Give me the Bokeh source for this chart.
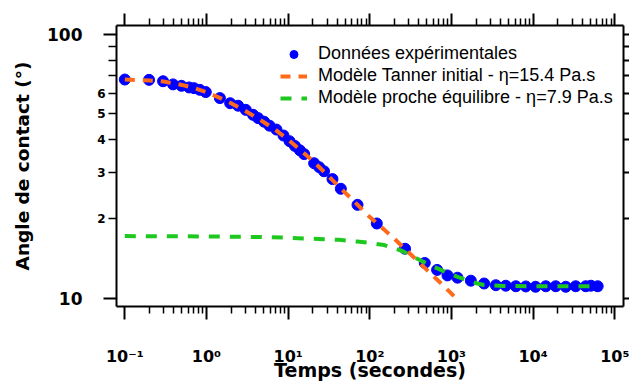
from bokeh.plotting import figure
from bokeh.models import (LogAxis, FixedTicker, PrintfTickFormatter, CustomJSTickFormatter,
                          Legend, LegendItem, Range1d)
from bokeh.embed import file_html
from bokeh.resources import INLINE

# ---------------- data ----------------
temps_exp = [0.1, 0.198, 0.294, 0.39, 0.494, 0.612, 0.705, 0.829, 0.981, 1.46, 1.95, 2.44,
             3.03, 3.72, 4.29, 5.08, 5.92, 7.2, 8.78, 10.4, 12.1, 13.9, 15.7, 20.8, 24.0,
             27.5, 34.9, 44.2, 70.7, 121.8, 270, 471, 667, 893, 1185, 1726, 2512, 3493,
             4624, 6137, 8128, 10700, 14300, 18900, 25100, 33200, 44100, 51000, 61700]
angle_exp = [67.5, 67.3, 66.5, 64.7, 63.9, 63.0, 62.6, 61.7, 60.5, 57.4, 54.9, 53.7,
             51.8, 49.6, 48.2, 46.7, 45.1, 43.6, 41.4, 39.4, 37.8, 36.4, 35.2, 32.5, 31.4,
             30.3, 28.3, 26.0, 22.6, 19.2, 15.4, 13.6, 12.8, 12.2, 11.96, 11.65, 11.37, 11.2,
             11.15, 11.1, 11.08, 11.05, 11.1, 11.1, 11.05, 11.1, 11.1, 11.15, 11.1]

temps_tanner = [0.1, 0.2, 0.3, 0.5, 0.7, 1, 1.5, 2, 3, 5, 7, 10, 15, 20, 30, 50, 70, 100,
                150, 200, 300, 500, 700, 1000, 1130]
angle_tanner = [67.5, 67.0, 66.3, 64.4, 62.7, 60.4, 57.3, 54.9, 51.3, 46.6, 43.5, 39.9,
                35.9, 33.2, 29.4, 25.1, 22.7, 20.3, 18.2, 16.8, 14.9, 12.8, 11.6, 10.4, 10.0]

temps_equil = [0.1, 1, 5, 10, 20, 42, 70, 100, 150, 250, 420, 740, 1000, 1190, 2080, 2500,
               4370, 10000, 30000, 58500]
angle_equil = [17.2, 17.15, 17.05, 16.95, 16.8, 16.65, 16.4, 16.2, 15.9, 15.1, 13.9, 12.8,
               12.3, 12.04, 11.37, 11.22, 11.12, 11.1, 11.1, 11.1]

x_decades = [-1, 0, 1, 2, 3, 4, 5]
x_tick_labels = ["10\u207b\u00b9", "10\u2070", "10\u00b9", "10\u00b2", "10\u00b3",
                 "10\u2074", "10\u2075"]
y_major = [10, 100]
y_minor = [20, 30, 40, 50, 60, 70, 80, 90]
y_small_ticks = [20, 30, 40, 50, 60]
y_small_labels = ["2", "3", "4", "5", "6"]

labels_legend = ["Données expérimentales",
                 "Modèle Tanner initial - η=15.4 Pa.s",
                 "Modèle proche équilibre - η=7.9 Pa.s"]

BLUE = "#0000ff"
ORANGE = "#ff6a1a"
GREEN = "#1ec81e"
FONT = "DejaVu Sans"

x_start, x_end = 0.0791, 1.278e5
y_start, y_end = 9.30, 108.2

p = figure(width=629, height=383, x_axis_type="log", y_axis_type="log",
           x_range=Range1d(x_start, x_end), y_range=Range1d(y_start, y_end),
           output_backend="svg", toolbar_location=None,
           min_border_left=116, min_border_right=6, min_border_top=25,
           min_border_bottom=77)
p.xgrid.visible = False
p.ygrid.visible = False
p.outline_line_color = None
p.background_fill_color = "white"
p.border_fill_color = "white"

x_major = [10.0 ** k for k in x_decades]
x_minor = [m * 10.0 ** k for k in x_decades[:-1] for m in range(2, 10)]

LOOKUP = """
for (let i = 0; i < tvals.length; i++) {
  if (Math.abs(tick - tvals[i]) <= 1e-9 * Math.abs(tvals[i])) { return tlabels[i]; }
}
return '';
"""


def blank():
    return CustomJSTickFormatter(code="return ''")


def style_axis(ax, maj_out, min_out):
    ax.axis_line_width = 2
    ax.axis_line_color = "black"
    ax.major_tick_line_width = 2
    ax.minor_tick_line_width = 1.5
    ax.major_tick_out = maj_out
    ax.major_tick_in = 0
    ax.minor_tick_out = min_out
    ax.minor_tick_in = 0


def label_only(ax):
    ax.axis_line_color = None
    ax.major_tick_line_color = None
    ax.minor_tick_line_color = None
    ax.major_tick_out = 0
    ax.major_tick_in = 0
    ax.minor_tick_out = 0
    ax.minor_tick_in = 0


# bottom axis: ticks + 10^k labels
xa = p.xaxis[0]
xa.ticker = FixedTicker(ticks=x_major, minor_ticks=x_minor)
xa.formatter = CustomJSTickFormatter(args=dict(tvals=x_major, tlabels=x_tick_labels),
                                     code=LOOKUP)
xa.major_label_text_font = FONT
xa.major_label_text_font_style = "bold"
xa.major_label_text_font_size = "16px"
xa.major_label_text_color = "black"
xa.major_label_standoff = 27
style_axis(xa, 13, 7)
xa.axis_label = "Temps (secondes)"
xa.axis_label_text_font = FONT
xa.axis_label_text_font_style = "bold"
xa.axis_label_text_font_size = "19px"
xa.axis_label_standoff = -10
xa.axis_label_text_color = "black"

# left axis: ticks only (long at 10/100, short elsewhere)
ya = p.yaxis[0]
ya.ticker = FixedTicker(ticks=y_major, minor_ticks=y_minor)
ya.formatter = blank()
ya.major_label_text_font_size = "1px"
ya.major_label_standoff = 0
style_axis(ya, 13, 8)

# left axis 2: small labels 2..6
yb = LogAxis(ticker=FixedTicker(ticks=y_small_ticks),
             formatter=CustomJSTickFormatter(args=dict(tvals=y_small_ticks,
                                                       tlabels=y_small_labels),
                                             code=LOOKUP),
             major_label_text_font=FONT, major_label_text_font_style="bold",
             major_label_text_font_size="12px", major_label_text_color="black",
             major_label_standoff=-2)
label_only(yb)
p.add_layout(yb, "left")

# left axis 3: 10 / 100 labels and the axis title
yc = LogAxis(ticker=FixedTicker(ticks=y_major),
             formatter=PrintfTickFormatter(format="%d"),
             major_label_text_font=FONT, major_label_text_font_style="bold",
             major_label_text_font_size="17px", major_label_text_color="black",
             major_label_standoff=12,
             axis_label="Angle de contact (°)", axis_label_text_font=FONT,
             axis_label_text_font_style="bold", axis_label_text_font_size="18.5px",
             axis_label_text_color="black", axis_label_standoff=11)
label_only(yc)
p.add_layout(yc, "left")

# top axis (ticks only)
top = LogAxis(ticker=FixedTicker(ticks=x_major, minor_ticks=x_minor),
              formatter=blank(), major_label_text_font_size="1px",
              major_label_standoff=0)
style_axis(top, 12, 7)
p.add_layout(top, "above")

# right axis (ticks only)
right = LogAxis(ticker=FixedTicker(ticks=y_major + y_minor),
                formatter=blank(), major_label_text_font_size="1px",
                major_label_standoff=0)
style_axis(right, 6, 6)
p.add_layout(right, "right")

# glyphs
r_exp = p.scatter(temps_exp, angle_exp, marker="circle", size=11,
                  fill_color=BLUE, line_color=BLUE)
r_tan = p.line(temps_tanner, angle_tanner, line_color=ORANGE, line_width=4,
               line_dash="10 8")
r_eq = p.line(temps_equil, angle_equil, line_color=GREEN, line_width=4,
              line_dash="11 10")

legend = Legend(items=[LegendItem(label=labels_legend[0], renderers=[r_exp]),
                       LegendItem(label=labels_legend[1], renderers=[r_tan]),
                       LegendItem(label=labels_legend[2], renderers=[r_eq])],
                location=(159, 193))
legend.label_text_font = "Liberation Sans"
legend.label_text_font_size = "18px"
legend.label_text_color = "black"
legend.glyph_width = 27
legend.glyph_height = 20
legend.label_height = 20
legend.label_standoff = 11
legend.spacing = 1
legend.padding = 5
legend.margin = 0
legend.background_fill_alpha = 0
legend.border_line_alpha = 0
p.add_layout(legend)

open("out.html", "w").write(file_html(p, INLINE))
